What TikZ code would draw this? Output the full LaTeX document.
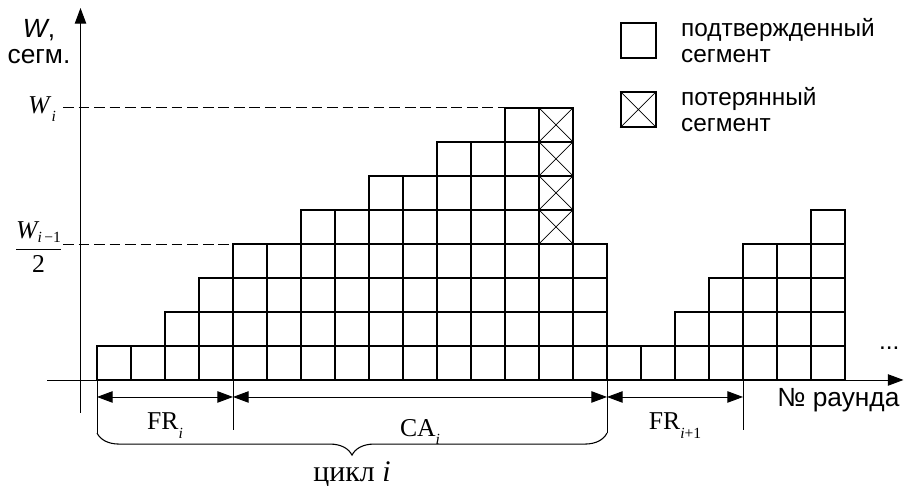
\documentclass[tikz,border=0pt]{standalone}
\usepackage{amsmath}
\usepackage{fontspec}
\setmainfont{Liberation Serif}
\setsansfont{Liberation Sans}
\usetikzlibrary{arrows.meta,positioning,calc,decorations.pathreplacing}
\newcommand\lowidx[2][-0.33em]{\raisebox{#1}{\fontsize{13}{13}\selectfont #2}}

\begin{document}
\begin{tikzpicture}[>={Triangle[length=13pt,width=9.5pt]}, semithick]
\tikzstyle{cell}=[line width=1.25pt]
\tikzstyle{lost}=[line width=0.6pt]
\tikzstyle{axis}=[line width=0.8pt,->]
\tikzstyle{dim}=[line width=0.8pt,<->]
\tikzstyle{tick}=[line width=0.8pt]
\tikzstyle{guide}=[line width=0.8pt,dash pattern=on 9pt off 4pt]
\tikzstyle{sans}=[inner sep=0,font=\sffamily\fontsize{20.4}{21.7}\selectfont]
\tikzstyle{axlab}=[inner sep=0,font=\sffamily\fontsize{22}{22}\selectfont]
\tikzstyle{serif}=[inner sep=0,font=\fontsize{21.5}{24}\selectfont]
\tikzstyle{legbox}=[draw,line width=1.25pt,minimum size=1.03cm,inner sep=0]
\useasboundingbox (-2.853,-3.118) rectangle (23.735,11.176);

% axes
\coordinate (xs) at (-1.47,0);
\coordinate (xe) at (23.72,0);
\coordinate (ys) at (-0.485,-0.97);
\coordinate (ye) at (-0.485,10.94);
\draw[axis] (xs) -- (xe);
\draw[axis] (ys) -- (ye);

% window size per round
\foreach \h [count=\c from 0] in {1,1,2,3,4,4,5,5,6,6,7,7,8,8,4,1,1,2,3,4,4,5}
  \foreach \r in {1,...,\h}
    \draw[cell] (\c,\r-1) rectangle +(1,1);
\foreach \r in {4,...,7}
  \draw[lost] (13,\r) -- +(1,1) (14,\r) -- +(-1,1);

% levels
\node[serif,anchor=base east] (wi) at (-1.2,7.85) {\textit{W}\lowidx{\itshape i}};
\node[serif] (whalf) at (-1.72,3.91)
  {$\dfrac{\text{\itshape W}\lowidx[-0.15em]{\itshape i\upshape\,−1}}{\text{2}}$};
\draw[guide] (-1,8) -- (12,8);
\draw[guide] (-1,4) -- (4,4);

\node[axlab,align=center,anchor=north] (ylab) at (-1.706,10.63) {{\itshape W},\\сегм.};
\node[axlab,anchor=base west] (xlab) at (20.0,-0.79) {№ раунда};
\node[sans,anchor=base] (dots) at (23.3,0.91) {...};

% phases
\coordinate (t0) at (0,0);   \coordinate (b0) at (0,-1.56);
\coordinate (t4) at (4,0);   \coordinate (b4) at (4,-1.47);
\coordinate (t15) at (15,0); \coordinate (b15) at (15,-1.56);
\coordinate (t19) at (19,0); \coordinate (b19) at (19,-1.47);
\draw[tick] (t0) -- (b0) (t4) -- (b4) (t15) -- (b15) (t19) -- (b19);
\draw[dim] ($(t0)!0.5cm!(b0)$) -- ($(t4)!0.5cm!(b4)$);
\draw[dim] ($(t4)!0.5cm!(b4)$) -- ($(t15)!0.5cm!(b15)$);
\draw[dim] ($(t15)!0.5cm!(b15)$) -- ($(t19)!0.5cm!(b19)$);
\node[serif,anchor=base] (fr1) at (2,-1.47) {FR\lowidx{\itshape i}};
\node[serif,anchor=base] (ca) at (9.5,-1.65) {CA\lowidx{\itshape i}};
\node[serif,anchor=base] (fr2) at (17,-1.47) {FR\lowidx{\itshape i\upshape +1}};

\draw[line width=0.9pt,decorate,decoration={brace,mirror,amplitude=0.65cm}] (b0) -- (b15);
\node[serif,font=\fontsize{25}{28}\selectfont,anchor=base] (cyc) at (7.5,-2.98) {цикл \textit{i}};

% legend
\node[legbox] (ack) at (15.925,9.985) {};
\node[legbox] (lostbox) at (15.925,7.955) {};
\draw[lost] (lostbox.north west) -- (lostbox.south east) (lostbox.north east) -- (lostbox.south west);
\node[sans,align=left,anchor=west,right=0.71cm of ack] (ackt) {подтвержденный\\сегмент};
\node[sans,align=left,anchor=west,right=0.71cm of lostbox] (lostt) {потерянный\\сегмент};
\end{tikzpicture}
\end{document}
